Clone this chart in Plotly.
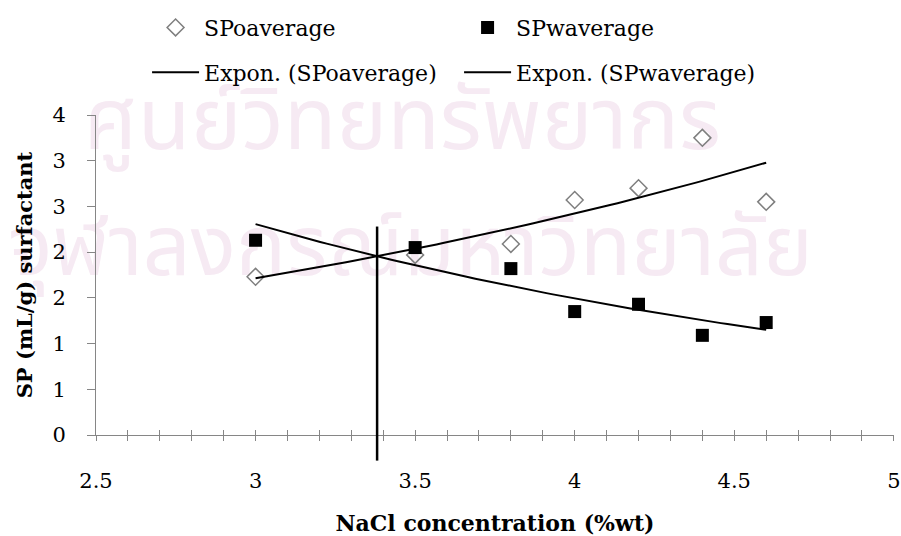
import numpy as np
import plotly.graph_objects as go

# NaCl concentration (%wt) and measured solubilisation parameters
nacl_wt = [3.0, 3.5, 3.8, 4.0, 4.2, 4.4, 4.6]
sp_oil = [1.73, 1.97, 2.09, 2.57, 2.70, 3.25, 2.55]
sp_water = [2.13, 2.05, 1.82, 1.35, 1.43, 1.09, 1.23]

# vertical marker drawn through the crossing of the two fits (y extent)
cross_marker_y = [-0.28, 2.28]

x_range = [2.5, 5.0005]
y_range = [0.0, 3.5]
y_tick_values = [0.0, 0.5, 1.0, 1.5, 2.0, 2.5, 3.0, 3.5]
y_tick_labels = ["0", "1", "1", "2", "2", "3", "3", "4"]

watermark_lines = ["ศูนย์วิทยทรัพยากร", "จุฬาลงกรณ์มหาวิทยาลัย"]

SERIF = "DejaVu Serif"
AXIS_GREY = "#868686"


def expon_fit(x, y):
    """Least-squares fit of y = a*exp(b*x) (log-linear, like a spreadsheet trendline)."""
    b, ln_a = np.polyfit(np.asarray(x), np.log(np.asarray(y)), 1)
    return np.exp(ln_a), b


a_o, b_o = expon_fit(nacl_wt, sp_oil)
a_w, b_w = expon_fit(nacl_wt, sp_water)
x_fit = np.linspace(min(nacl_wt), max(nacl_wt), 80)
x_cross = np.log(a_w / a_o) / (b_o - b_w)

fig = go.Figure()

fig.add_trace(go.Scatter(
    x=nacl_wt, y=sp_oil, mode="markers", name="SPoaverage",
    marker=dict(symbol="diamond-open", size=13, color="#7f7f7f",
                line=dict(width=1.5, color="#7f7f7f")),
    legend="legend",
))
fig.add_trace(go.Scatter(
    x=nacl_wt, y=sp_water, mode="markers", name="SPwaverage",
    marker=dict(symbol="square", size=13, color="black"),
    legend="legend",
))
fig.add_trace(go.Scatter(
    x=x_fit, y=a_o * np.exp(b_o * x_fit), mode="lines",
    name="Expon. (SPoaverage)", line=dict(color="black", width=2),
    legend="legend2",
))
fig.add_trace(go.Scatter(
    x=x_fit, y=a_w * np.exp(b_w * x_fit), mode="lines",
    name="Expon. (SPwaverage)", line=dict(color="black", width=2),
    legend="legend2",
))
# carrier for the inside half of the crossing x ticks
fig.add_trace(go.Scatter(x=[], y=[], xaxis="x2", showlegend=False, hoverinfo="skip"))


def to_paper_y(v):
    return (v - y_range[0]) / (y_range[1] - y_range[0])


# vertical line at the crossing point, running below the axis
fig.add_shape(type="line", xref="x", yref="paper",
              x0=x_cross, x1=x_cross,
              y0=to_paper_y(cross_marker_y[0]), y1=to_paper_y(cross_marker_y[1]),
              line=dict(color="black", width=2.5), layer="above")

# faint background watermark
wm_family = "Noto Sans Thai, Loma, Garuda, Tlwg Typo, DejaVu Sans, sans-serif"
for text, (cx, cy), size in zip(watermark_lines,
                                [(0.384, 0.958), (0.394, 0.565)],
                                [86, 84]):
    fig.add_shape(type="rect", xref="paper", yref="paper",
                  x0=cx - 0.05, x1=cx + 0.05, y0=cy - 0.05, y1=cy + 0.05,
                  line=dict(width=0), fillcolor="rgba(0,0,0,0)", layer="below",
                  label=dict(text=text, textposition="middle center",
                             font=dict(family=wm_family, size=size, color="#f6eaf3")))

tick_font = dict(family=SERIF, size=21, color="black")

fig.update_layout(
    width=901, height=536,
    margin=dict(l=96, r=7, t=115, b=101, autoexpand=False),
    paper_bgcolor="white", plot_bgcolor="white",
    font=dict(family=SERIF, size=21, color="black"),
    showlegend=True,
    xaxis=dict(
        range=x_range, dtick=0.5, tick0=2.5, automargin=False,
        showline=True, linecolor=AXIS_GREY, linewidth=1,
        ticks="outside", ticklen=5, tickcolor=AXIS_GREY, tickwidth=1,
        minor=dict(dtick=0.1, tick0=2.5, ticks="outside", ticklen=5,
                   tickcolor=AXIS_GREY, tickwidth=1),
        showgrid=False, zeroline=False,
        tickfont=tick_font, ticklabelstandoff=22, ticklabeloverflow="allow",
        title=dict(text="<b>NaCl concentration (%wt)</b>",
                   font=dict(family=SERIF, size=22, color="black"), standoff=29),
    ),
    xaxis2=dict(
        range=x_range, overlaying="x", anchor="y", side="bottom", automargin=False,
        dtick=0.1, tick0=2.5, ticks="inside", ticklen=5,
        tickcolor=AXIS_GREY, tickwidth=1,
        showticklabels=False, showline=False, showgrid=False, zeroline=False,
    ),
    yaxis=dict(
        range=y_range, tickvals=y_tick_values, ticktext=y_tick_labels,
        automargin=False,
        showline=True, linecolor=AXIS_GREY, linewidth=1,
        ticks="outside", ticklen=8, tickcolor=AXIS_GREY, tickwidth=1,
        showgrid=False, zeroline=False,
        tickfont=tick_font, ticklabelstandoff=17,
        title=dict(text="<b>SP (mL/g) surfactant</b>",
                   font=dict(family=SERIF, size=21, color="black"), standoff=14),
    ),
    legend=dict(
        orientation="h", x=0.064, xanchor="left", y=1.273, yanchor="middle",
        itemwidth=47, entrywidth=250, font=dict(family=SERIF, size=22),
        bgcolor="rgba(0,0,0,0)", traceorder="normal",
    ),
    legend2=dict(
        orientation="h", x=0.064, xanchor="left", y=1.133, yanchor="middle",
        itemwidth=47, entrywidth=250, font=dict(family=SERIF, size=22),
        bgcolor="rgba(0,0,0,0)", traceorder="normal",
    ),
)

fig.write_html("out.html")
